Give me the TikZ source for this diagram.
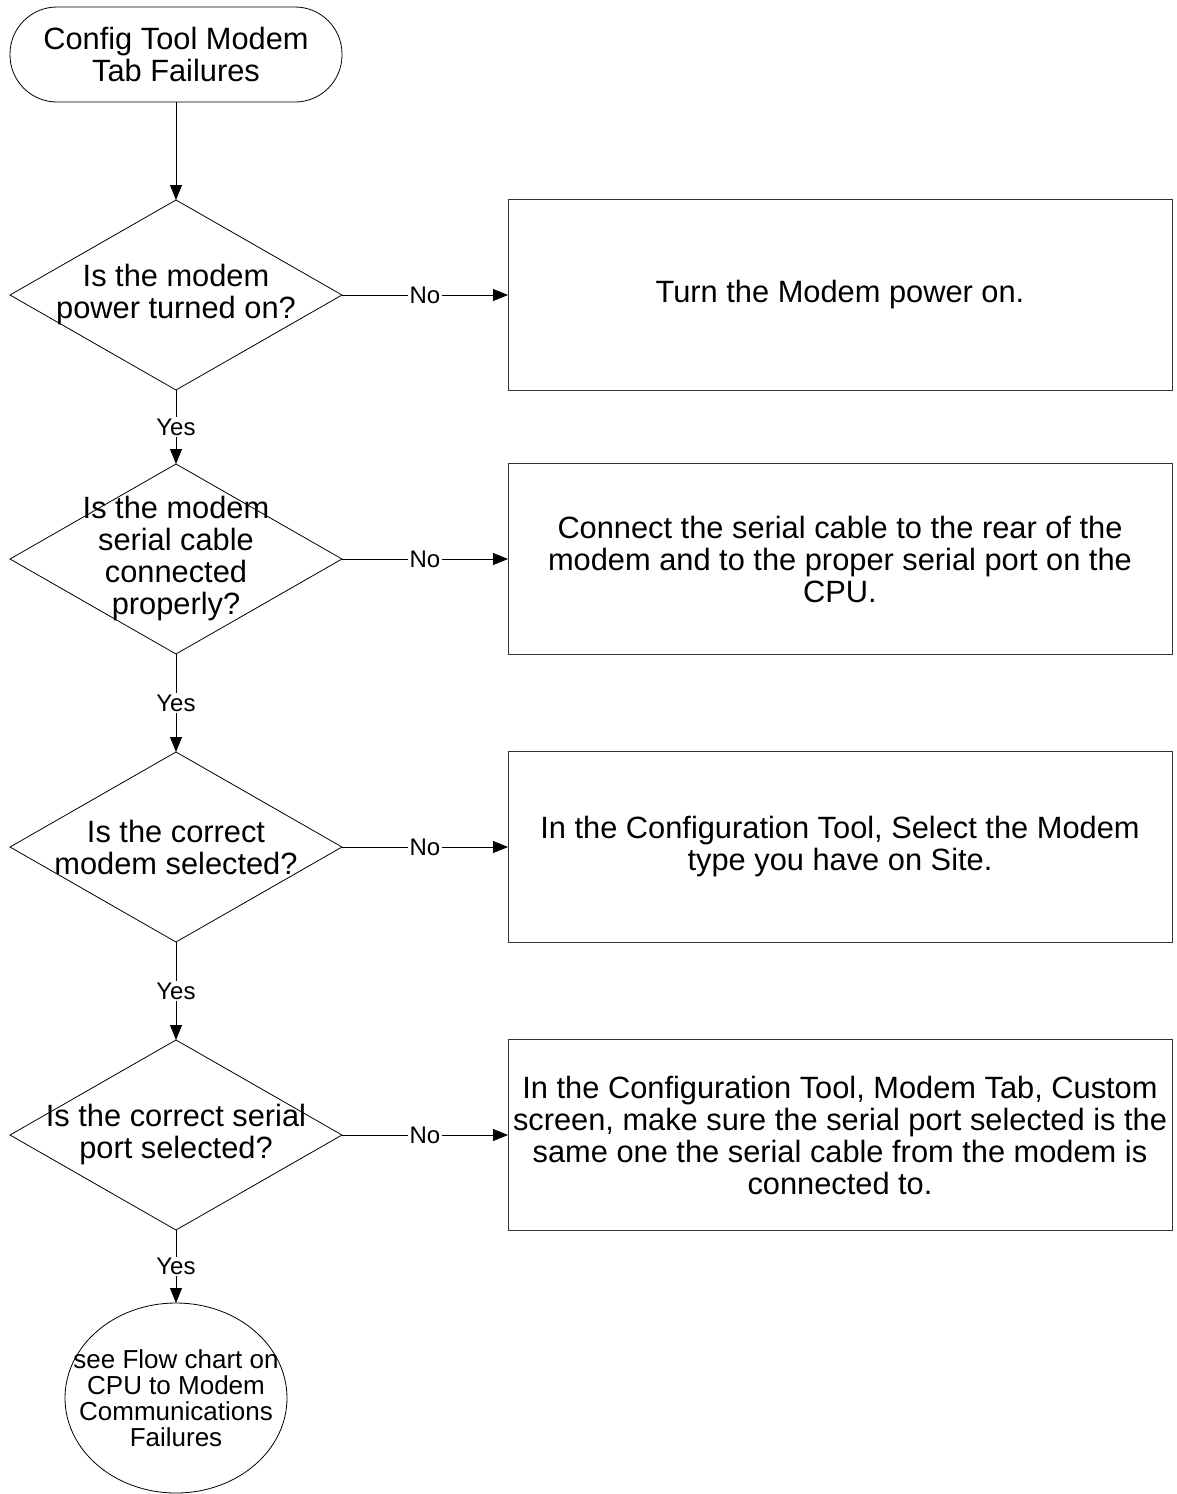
\documentclass[tikz,border=0pt]{standalone}
\usepackage{fontspec}
\setmainfont{Liberation Sans}
\usetikzlibrary{arrows.meta,shapes.geometric}
\begin{document}
\begin{tikzpicture}[x=1pt,y=-1pt,
  every node/.style={inner sep=0pt, outer sep=0pt},
  big/.style={font=\fontsize{30.8}{32}\selectfont, align=center},
  small/.style={font=\fontsize{26}{26}\selectfont, align=center},
  startbox/.style={draw, line width=0.8pt, rectangle, rounded corners=47pt, minimum width=332pt, minimum height=95pt, big},
  dec/.style={diamond, draw, line width=0.8pt, minimum width=332pt, minimum height=190pt},
  actbox/.style={draw=black!80, line width=1pt, rectangle, minimum width=664pt, minimum height=191pt, big},
  endell/.style={ellipse, draw, line width=0.8pt, minimum width=222pt, minimum height=190pt},
  flow/.style={draw, line width=0.8pt, -{Triangle[length=15pt,width=12pt]}},
  lab/.style={fill=white, font=\fontsize{24}{26}\selectfont, inner sep=1.5pt}]
\useasboundingbox (0,0) rectangle (1177,1494);

\node[startbox] (s) at (176,54.5) {Config Tool Modem\\Tab Failures};

\node[dec, label={[big]center:{Is the modem\\power turned on?}}] (d1) at (176,295) {};
\node[dec, label={[big]center:{Is the modem\\serial cable\\connected\\properly?}}] (d2) at (176,559) {};
\node[dec, label={[big]center:{Is the correct\\modem selected?}}] (d3) at (176,847) {};
\node[dec, label={[big]center:{Is the correct serial\\port selected?}}] (d4) at (176,1135) {};

\node[actbox] (b1) at (840,295) {Turn the Modem power on.};
\node[actbox] (b2) at (840,559) {Connect the serial cable to the rear of the\\modem and to the proper serial port on the\\CPU.};
\node[actbox] (b3) at (840,847) {In the Configuration Tool, Select the Modem\\type you have on Site.};
\node[actbox] (b4) at (840,1135) {In the Configuration Tool, Modem Tab, Custom\\screen, make sure the serial port selected is the\\same one the serial cable from the modem is\\connected to.};

\node[endell, label={[small]center:{see Flow chart on\\CPU to Modem\\Communications\\Failures}}] (e) at (176,1398) {};

\draw[flow] (s.south) -- (d1.north);
\draw[flow] (d1.east) -- node[lab]{No} (b1.west);
\draw[flow] (d2.east) -- node[lab]{No} (b2.west);
\draw[flow] (d3.east) -- node[lab]{No} (b3.west);
\draw[flow] (d4.east) -- node[lab]{No} (b4.west);
\draw[flow] (d1.south) -- node[lab]{Yes} (d2.north);
\draw[flow] (d2.south) -- node[lab]{Yes} (d3.north);
\draw[flow] (d3.south) -- node[lab]{Yes} (d4.north);
\draw[flow] (d4.south) -- node[lab]{Yes} (e.north);
\end{tikzpicture}
\end{document}
